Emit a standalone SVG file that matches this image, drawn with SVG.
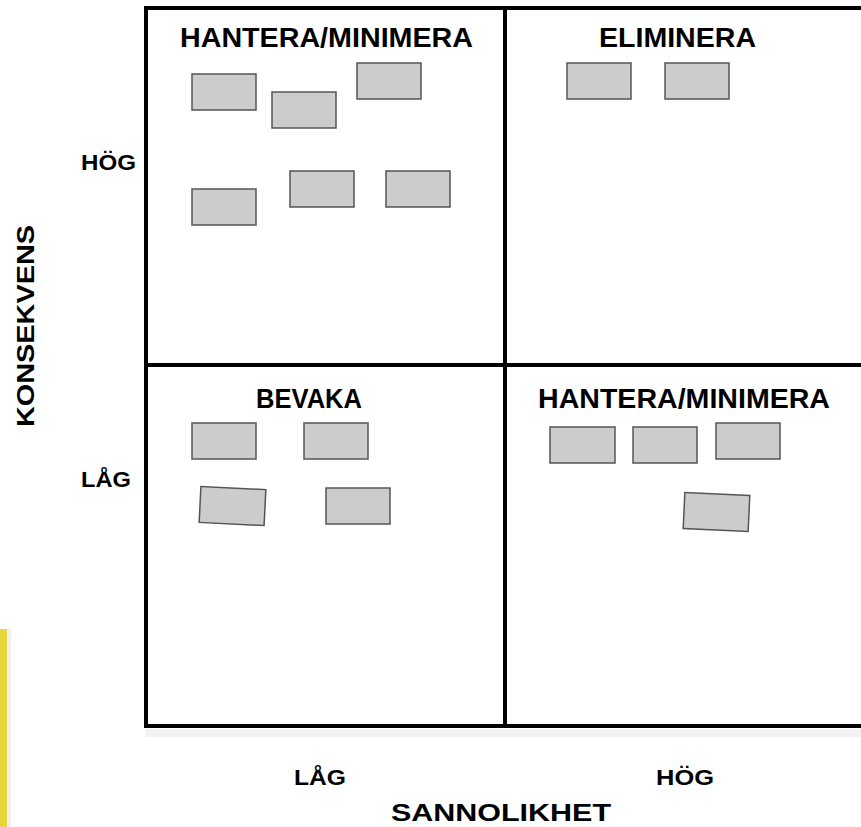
<svg xmlns="http://www.w3.org/2000/svg" width="861" height="827" viewBox="0 0 861 827">
<defs>
<style>
.frame{fill:none;stroke:#000;stroke-width:4;stroke-linecap:square}
.shadow{fill:none;stroke:#f2f2f2;stroke-width:8}
.card{fill:#cccccc;stroke:#555555;stroke-width:1.5}
.title{font-family:"Liberation Sans",Arial,sans-serif;font-weight:bold;font-size:27px;fill:#000}
.axis{font-family:"Liberation Sans",Arial,sans-serif;font-weight:bold;font-size:24px;fill:#000}
.tick{font-family:"Liberation Sans",Arial,sans-serif;font-weight:bold;font-size:22px;fill:#000}
</style>
</defs>
<rect width="861" height="827" fill="#ffffff"/>
<!-- yellow strip -->
<rect x="7" y="629" width="4" height="198" fill="#f0f0f0"/>
<rect x="0" y="629" width="7" height="198" fill="#e8d43c"/>

<g id="grid">
<path class="shadow" d="M146 733 H861"/>
<path class="frame" d="M861 8 H146 V726 H861"/>
<path class="frame" d="M505 8 V726"/>
<path class="frame" d="M146 365 H861"/>
</g>

<g id="q-high-low">
<text class="title" x="180" y="47" textLength="293" lengthAdjust="spacingAndGlyphs">HANTERA/MINIMERA</text>
<rect class="card" x="192" y="74" width="64" height="36"/>
<rect class="card" x="272" y="92" width="64" height="36"/>
<rect class="card" x="357" y="63" width="64" height="36"/>
<rect class="card" x="192" y="189" width="64" height="36"/>
<rect class="card" x="290" y="171" width="64" height="36"/>
<rect class="card" x="386" y="171" width="64" height="36"/>
</g>

<g id="q-high-high">
<text class="title" x="599" y="47" textLength="157" lengthAdjust="spacingAndGlyphs">ELIMINERA</text>
<rect class="card" x="567" y="63" width="64" height="36"/>
<rect class="card" x="665" y="63" width="64" height="36"/>
</g>

<g id="q-low-low">
<text class="title" x="256" y="408" textLength="106" lengthAdjust="spacingAndGlyphs">BEVAKA</text>
<rect class="card" x="192" y="423" width="64" height="36"/>
<rect class="card" x="304" y="423" width="64" height="36"/>
<rect class="card" x="200" y="488" width="65" height="36" transform="rotate(2.8 232.5 506)"/>
<rect class="card" x="326" y="488" width="64" height="36"/>
</g>

<g id="q-low-high">
<text class="title" x="538" y="408" textLength="292" lengthAdjust="spacingAndGlyphs">HANTERA/MINIMERA</text>
<rect class="card" x="550" y="427" width="65" height="36"/>
<rect class="card" x="633" y="427" width="64" height="36"/>
<rect class="card" x="716" y="423" width="64" height="36"/>
<rect class="card" x="684" y="494" width="65" height="36" transform="rotate(2.7 716.5 512)"/>
</g>

<g id="axes">
<text class="tick" x="81" y="170" textLength="55" lengthAdjust="spacingAndGlyphs">HÖG</text>
<text class="tick" x="81" y="487" textLength="50" lengthAdjust="spacingAndGlyphs">LÅG</text>
<text class="axis" transform="translate(34 326) rotate(-90)" x="0" y="0" text-anchor="middle" textLength="202" lengthAdjust="spacingAndGlyphs">KONSEKVENS</text>
<text class="tick" x="294" y="785" textLength="52" lengthAdjust="spacingAndGlyphs">LÅG</text>
<text class="tick" x="656" y="785" textLength="58" lengthAdjust="spacingAndGlyphs">HÖG</text>
<text class="axis" x="391" y="821" textLength="220" lengthAdjust="spacingAndGlyphs">SANNOLIKHET</text>
</g>
</svg>
